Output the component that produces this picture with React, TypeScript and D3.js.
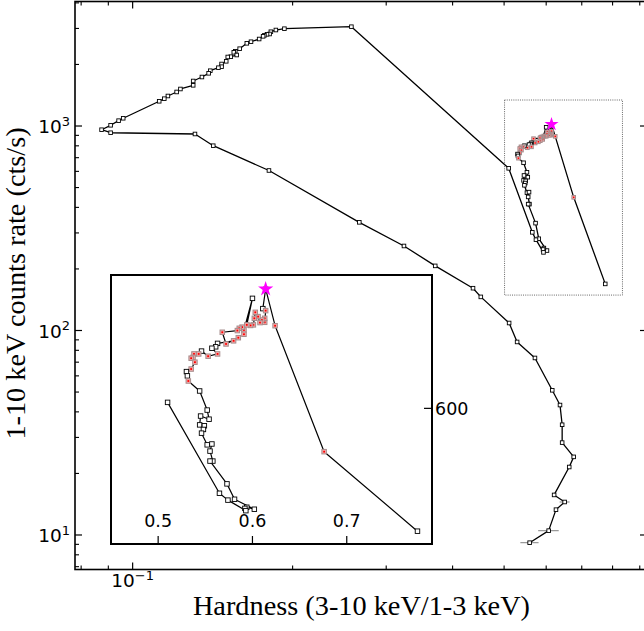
import React from 'react';
import * as d3 from 'd3';

// ---- data (hardness, 1-10 keV rate) ----
// loop around the peak (shown in the inset), in path order
const loopHardness = [0.775, 0.676, 0.624, 0.614, 0.611, 0.614, 0.613, 0.613, 0.610, 0.608, 0.606, 0.603, 0.602, 0.601, 0.598, 0.594, 0.600, 0.591, 0.591, 0.589, 0.586, 0.584, 0.568, 0.572, 0.585, 0.580, 0.563, 0.561, 0.557, 0.563, 0.553, 0.546, 0.543, 0.538, 0.537, 0.535, 0.539, 0.535, 0.530, 0.531, 0.532, 0.544, 0.552, 0.554, 0.545, 0.544, 0.549, 0.548, 0.546, 0.552, 0.557, 0.555, 0.558, 0.555, 0.573, 0.581, 0.602, 0.594, 0.592, 0.593, 0.574, 0.565, 0.510];
const loopRate = [169, 448, 890, 1019, 950, 943, 902, 916, 910, 901, 922, 937, 916, 893, 891, 893, 986, 875, 860, 885, 881, 873, 867, 826, 848, 837, 828, 816, 811, 791, 783, 801, 791, 791, 779, 776, 762, 738, 729, 714, 696, 661, 594, 562, 573, 542, 539, 526, 513, 472, 475, 450, 415, 415, 335, 281, 246, 253, 249, 241, 278, 302, 621];
const loopKind = ['K', 'R', 'R', 'R', 'K', 'R', 'R', 'R', 'R', 'R', 'R', 'R', 'R', 'R', 'R', 'R', 'K', 'R', 'R', 'R', 'R', 'R', 'R', 'R', 'R', 'R', 'K', 'K', 'K', 'R', 'R', 'K', 'R', 'R', 'R', 'R', 'R', 'R', 'K', 'K', 'R', 'K', 'K', 'K', 'K', 'K', 'K', 'K', 'K', 'K', 'K', 'K', 'K', 'K', 'K', 'K', 'K', 'K', 'K', 'K', 'K', 'K', 'K'];

// soft branch, from the brightest point down to the softest point
const softHardness = [0.258, 0.193, 0.186, 0.182, 0.181, 0.179, 0.177, 0.176, 0.173, 0.167, 0.164, 0.159, 0.156, 0.155, 0.157, 0.153, 0.151, 0.150, 0.147, 0.147, 0.145, 0.140, 0.139, 0.135, 0.130, 0.130, 0.123, 0.121, 0.1165, 0.1147, 0.1122, 0.0960, 0.0941, 0.0909, 0.0874];
const softRate = [3059, 2991, 2947, 2891, 2818, 2808, 2776, 2745, 2663, 2583, 2537, 2388, 2319, 2293, 2224, 2183, 2175, 2072, 2010, 1950, 1928, 1864, 1810, 1736, 1660, 1581, 1517, 1467, 1402, 1360, 1321, 1091, 1062, 1008, 959];

// decay branch
const decayHardness = [0.0909, 0.131, 0.1418, 0.1805, 0.267, 0.324, 0.371, 0.437, 0.452, 0.511, 0.529, 0.5715, 0.616, 0.637, 0.643, 0.643, 0.676, 0.663, 0.621, 0.650, 0.626, 0.6065, 0.5585];
const decayRate = [927, 914, 801, 606, 338, 259, 207, 161, 146, 108.8, 87.9, 73.4, 51.0, 43.2, 34.6, 28.3, 24.1, 21.5, 15.7, 14.5, 13.3, 10.5, 9.17];
const decayXerr = [0, 0, 0, 0, 0, 0, 0, 0, 0, 0, 0, 0, 0, 0, 0, 0, 0.006, 0, 0, 0.014, 0.005, 0.027, 0.022];

const peakHardness = [0.614];
const peakRate = [1019];

const zoomBoxX = [0.501, 0.835];
const zoomBoxY = [149, 1340];

const xMajor = [0.1];
const xMinor = [0.08, 0.09, 0.2, 0.3, 0.4, 0.5, 0.6, 0.7, 0.8, 0.9];
const yMajor = [10, 100, 1000];
const yMajorExp = ['1', '2', '3'];
const yMinor = [7, 8, 9, 20, 30, 40, 50, 60, 70, 80, 90, 200, 300, 400, 500, 600, 700, 800, 900, 2000, 3000, 4000];
const insetXTicks = [0.5, 0.6, 0.7];
const insetYTicks = [600];

// ---- layout ----
const W = 644, H = 631;
const M = { left: 75, right: 648, top: 1.5, bottom: 569.5 };
const I = { left: 111, right: 432, top: 275, bottom: 544 };

type Pt = { h: number; r: number; k: string; e: number };

export default function App() {
  const x = d3.scaleLog().domain([0.0779, 0.9327]).range([M.left, M.right]);
  const y = d3.scaleLog().domain([6.78, 4063]).range([M.bottom, M.top]);
  const xi = d3.scaleLinear().domain([0.45, 0.7904]).range([I.left, I.right]);
  const yi = d3.scaleLinear().domain([124, 1068]).range([I.bottom, I.top]);

  const loop: Pt[] = loopHardness.map((h, i) => ({ h, r: loopRate[i], k: loopKind[i], e: 0 }));
  const soft: Pt[] = softHardness.map((h, i) => ({ h, r: softRate[i], k: 'K', e: 0 }));
  const decay: Pt[] = decayHardness.map((h, i) => ({ h, r: decayRate[i], k: 'K', e: decayXerr[i] }));
  const all = [...loop, ...soft, ...decay];

  const lineMain = d3.line<Pt>().x(d => x(d.h)).y(d => y(d.r));
  const lineIns = d3.line<Pt>().x(d => xi(d.h)).y(d => yi(d.r));
  const star = d3.symbol().type(d3.symbolStar);

  const marker = (cx: number, cy: number, k: string, s: number, key: string) =>
    k === 'R' ? (
      <g key={key}>
        <rect x={cx - s / 2} y={cy - s / 2} width={s} height={s} fill="#f4a9a9" stroke="#a58c8c" strokeWidth={1} />
        <rect x={cx - s * 0.2} y={cy - s * 0.2} width={s * 0.4} height={s * 0.4} fill="#ff0000" />
      </g>
    ) : (
      <rect key={key} x={cx - s / 2} y={cy - s / 2} width={s} height={s} fill="#ffffff" stroke="#000" strokeWidth={0.9} />
    );

  const tickFont = "'DejaVu Sans', sans-serif";
  const labelFont = "'Liberation Serif', 'Times New Roman', serif";

  return (
    <svg width={W} height={H} style={{ position: 'absolute', left: 0, top: 0, background: '#fff' }}>
      <defs>
        <clipPath id="mainClip"><rect x={M.left} y={M.top} width={M.right - M.left} height={M.bottom - M.top} /></clipPath>
        <clipPath id="insClip"><rect x={I.left} y={I.top} width={I.right - I.left} height={I.bottom - I.top} /></clipPath>
      </defs>

      {/* main plot */}
      <g clipPath="url(#mainClip)">
        <rect x={x(zoomBoxX[0])} y={y(zoomBoxY[1])} width={x(zoomBoxX[1]) - x(zoomBoxX[0])} height={y(zoomBoxY[0]) - y(zoomBoxY[1])}
          fill="none" stroke="#666" strokeWidth={1} strokeDasharray="1,1.2" />
        <path d={lineMain(all) || ''} fill="none" stroke="#000" strokeWidth={1.3} strokeLinejoin="round" />
        {decay.filter(d => d.e > 0).map((d, i) => (
          <line key={'e' + i} x1={x(d.h - d.e)} x2={x(d.h + d.e)} y1={y(d.r)} y2={y(d.r)} stroke="#9a9a9a" strokeWidth={1.3} />
        ))}
        {all.map((d, i) => marker(x(d.h), y(d.r), d.k, 3.6, 'm' + i))}
        {peakHardness.map((h, i) => (
          <path key={'s' + i} d={star.size(62)() || ''} transform={`translate(${x(h)},${y(peakRate[i])})`} fill="#ff00ff" />
        ))}
      </g>

      {/* main axes frame */}
      <rect x={M.left} y={M.top} width={M.right - M.left} height={M.bottom - M.top} fill="none" stroke="#000" strokeWidth={1.6} />
      {xMajor.map((v, i) => (
        <g key={'xM' + i}>
          <line x1={x(v)} x2={x(v)} y1={M.bottom} y2={M.bottom - 7} stroke="#000" strokeWidth={1.2} />
          <line x1={x(v)} x2={x(v)} y1={M.top} y2={M.top + 7} stroke="#000" strokeWidth={1.2} />
          <text x={x(v)} y={587} textAnchor="middle" fontFamily={tickFont} fontSize={18.5} fill="#000">
            10<tspan fontSize={13} dy={-7}>−1</tspan>
          </text>
        </g>
      ))}
      {xMinor.map((v, i) => (
        <g key={'xm' + i}>
          <line x1={x(v)} x2={x(v)} y1={M.bottom} y2={M.bottom - 4} stroke="#000" strokeWidth={1.1} />
          <line x1={x(v)} x2={x(v)} y1={M.top} y2={M.top + 4} stroke="#000" strokeWidth={1.1} />
        </g>
      ))}
      {yMajor.map((v, i) => (
        <g key={'yM' + i}>
          <line x1={M.left} x2={M.left + 7} y1={y(v)} y2={y(v)} stroke="#000" strokeWidth={1.2} />
          <line x1={M.right} x2={M.right - 8} y1={y(v)} y2={y(v)} stroke="#000" strokeWidth={1.2} />
          <text x={70} y={y(v) + 7.3} textAnchor="end" fontFamily={tickFont} fontSize={18.5} fill="#000">
            10<tspan fontSize={13} dy={-7.5}>{yMajorExp[i]}</tspan>
          </text>
        </g>
      ))}
      {yMinor.map((v, i) => (
        <g key={'ym' + i}>
          <line x1={M.left} x2={M.left + 4} y1={y(v)} y2={y(v)} stroke="#000" strokeWidth={1.1} />
          <line x1={M.right} x2={M.right - 4} y1={y(v)} y2={y(v)} stroke="#000" strokeWidth={1.1} />
        </g>
      ))}

      <text x={361.5} y={615} textAnchor="middle" fontFamily={labelFont} fontSize={28.3} fill="#000">
        Hardness (3-10 keV/1-3 keV)
      </text>
      <text transform="translate(25,283.5) rotate(-90)" textAnchor="middle" fontFamily={labelFont} fontSize={28.3} fill="#000">
        1-10 keV counts rate (cts/s)
      </text>

      {/* inset */}
      <rect x={I.left} y={I.top} width={I.right - I.left} height={I.bottom - I.top} fill="#fff" />
      <g clipPath="url(#insClip)">
        <path d={lineIns(loop) || ''} fill="none" stroke="#000" strokeWidth={1.2} strokeLinejoin="round" />
        {loop.map((d, i) => marker(xi(d.h), yi(d.r), d.k, 4.5, 'i' + i))}
        {peakHardness.map((h, i) => (
          <path key={'is' + i} d={star.size(72)() || ''} transform={`translate(${xi(h)},${yi(peakRate[i])})`} fill="#ff00ff" />
        ))}
      </g>
      <rect x={I.left} y={I.top} width={I.right - I.left} height={I.bottom - I.top} fill="none" stroke="#000" strokeWidth={2} />
      {insetXTicks.map((v, i) => (
        <g key={'ix' + i}>
          <line x1={xi(v)} x2={xi(v)} y1={I.bottom} y2={I.bottom - 8} stroke="#000" strokeWidth={1.2} />
          <text x={xi(v)} y={527} textAnchor="middle" fontFamily={tickFont} fontSize={17.5} fill="#000">{v.toFixed(1)}</text>
        </g>
      ))}
      {insetYTicks.map((v, i) => (
        <g key={'iy' + i}>
          <line x1={I.right} x2={I.right - 8} y1={yi(v)} y2={yi(v)} stroke="#000" strokeWidth={1.2} />
          <text x={435} y={yi(v) + 6.5} textAnchor="start" fontFamily={tickFont} fontSize={17.5} fill="#000">{v}</text>
        </g>
      ))}
    </svg>
  );
}
